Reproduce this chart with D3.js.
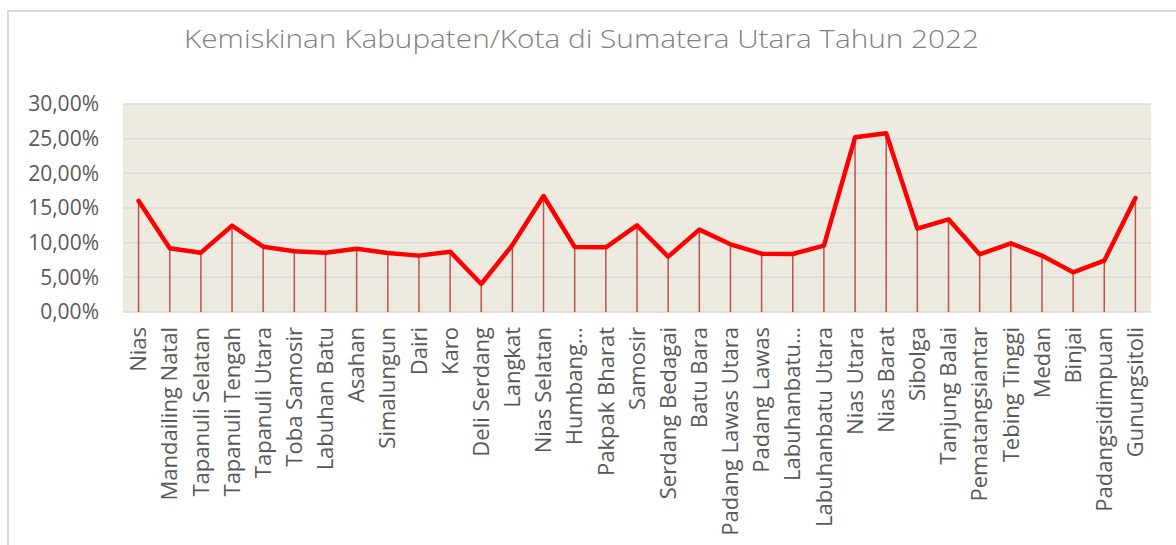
<!DOCTYPE html>
<html>
<head>
<meta charset="utf-8">
<script src="https://cdn.jsdelivr.net/npm/d3@7"></script>
<style>
  body { margin: 0; background: #fff; }
  svg { display: block; }
</style>
</head>
<body>
<div id="chart"></div>
<script>
// data
const regions = ['Nias', 'Mandailing Natal', 'Tapanuli Selatan', 'Tapanuli Tengah', 'Tapanuli Utara',
    'Toba Samosir', 'Labuhan Batu', 'Asahan', 'Simalungun', 'Dairi', 'Karo', 'Deli Serdang', 'Langkat',
    'Nias Selatan', 'Humbang…', 'Pakpak Bharat', 'Samosir', 'Serdang Bedagai', 'Batu Bara',
    'Padang Lawas Utara', 'Padang Lawas', 'Labuhanbatu…', 'Labuhanbatu Utara', 'Nias Utara',
    'Nias Barat', 'Sibolga', 'Tanjung Balai', 'Pematangsiantar', 'Tebing Tinggi', 'Medan', 'Binjai',
    'Padangsidimpuan', 'Gunungsitoli'];
const poverty = [16.04, 9.18, 8.56, 12.45, 9.42, 8.75, 8.56, 9.13, 8.50, 8.13, 8.70, 4.04, 9.66,
    16.73, 9.38, 9.33, 12.50, 7.98, 11.88, 9.76, 8.41, 8.37, 9.57, 25.19, 25.77, 12.02, 13.37,
    8.32, 9.90, 8.13, 5.72, 7.40, 16.44];
const yTicks = [0, 5, 10, 15, 20, 25, 30];
const title = 'Kemiskinan Kabupaten/Kota di Sumatera Utara Tahun 2022';

const W = 1176, H = 545;
const plot = {left: 123, right: 1151, top: 104, bottom: 312};

const svg = d3.select('#chart').append('svg')
    .attr('width', W)
    .attr('height', H);

// outer chart frame
svg.append('rect')
    .attr('x', 8).attr('y', 11)
    .attr('width', W + 20).attr('height', H + 20)
    .attr('fill', '#fff')
    .attr('stroke', '#d9d9d9')
    .attr('stroke-width', 2);

svg.append('text')
    .attr('x', 184)
    .attr('y', 48)
    .attr('textLength', 795)
    .attr('lengthAdjust', 'spacingAndGlyphs')
    .style('font-family', '"Open Sans", sans-serif')
    .style('font-weight', 300)
    .style('font-size', '26px')
    .style('fill', '#7f7f7f')
    .text(title);

const x = d3.scaleBand()
    .domain(regions)
    .range([plot.left, plot.right]);

const y = d3.scaleLinear()
    .domain([0, 30])
    .range([plot.bottom, plot.top]);

const cx = d => x(d) + x.bandwidth() / 2;

svg.append('rect')
    .attr('x', plot.left).attr('y', plot.top)
    .attr('width', plot.right - plot.left)
    .attr('height', plot.bottom - plot.top)
    .attr('fill', '#edebe0');

// horizontal gridlines
svg.append('g')
    .selectAll('line')
    .data(yTicks)
    .enter().append('line')
    .attr('x1', plot.left)
    .attr('x2', plot.right)
    .attr('y1', d => y(d))
    .attr('y2', d => y(d))
    .attr('stroke', '#d9d9d9')
    .attr('stroke-width', 1.5);

// y axis labels
const fmt = d => d3.format('.2f')(d).replace('.', ',') + '%';
const yAxis = svg.append('g')
    .attr('transform', `translate(${plot.left - 24},0)`)
    .call(d3.axisLeft(y).tickValues(yTicks).tickFormat(fmt).tickSize(0).tickPadding(0));
yAxis.select('.domain').remove();
yAxis.selectAll('text')
    .style('font-family', '"Open Sans", sans-serif')
    .style('font-size', '21px')
    .style('fill', '#595959');

// drop lines from each point to the axis
svg.append('g')
    .selectAll('line')
    .data(regions)
    .enter().append('line')
    .attr('x1', d => cx(d))
    .attr('x2', d => cx(d))
    .attr('y1', (d, i) => y(poverty[i]))
    .attr('y2', y(0))
    .attr('stroke', '#c0504d')
    .attr('stroke-width', 1.5);

const line = d3.line()
    .x((d, i) => cx(regions[i]))
    .y(d => y(d));

svg.append('path')
    .datum(poverty)
    .attr('d', line)
    .attr('fill', 'none')
    .attr('stroke', '#ff0000')
    .attr('stroke-width', 4.5)
    .attr('stroke-linejoin', 'round')
    .attr('stroke-linecap', 'round');

// category labels, rotated
const xAxis = svg.append('g')
    .attr('transform', `translate(0,${plot.bottom})`)
    .call(d3.axisBottom(x).tickSize(0).tickPadding(0));
xAxis.select('.domain').remove();
xAxis.selectAll('text')
    .attr('transform', 'rotate(-90)')
    .attr('x', -15)
    .attr('y', 0)
    .attr('dy', '0.35em')
    .attr('text-anchor', 'end')
    .style('font-family', '"Open Sans", sans-serif')
    .style('font-size', '22px')
    .style('fill', '#595959');
</script>
</body>
</html>
